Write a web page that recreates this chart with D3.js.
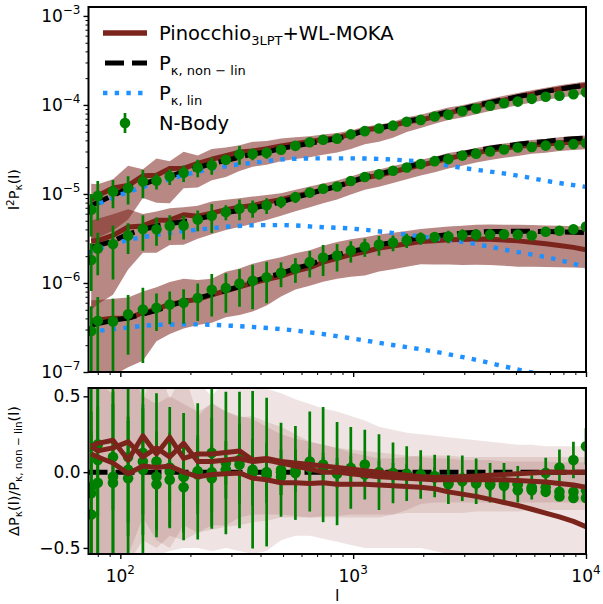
<!DOCTYPE html>
<html>
<head>
<meta charset="utf-8">
<script src="https://cdn.jsdelivr.net/npm/d3@7"></script>
<style>
html,body{margin:0;padding:0;background:#fff;}
svg text{font-family:"DejaVu Sans",sans-serif;fill:#000;}
</style>
</head>
<body>
<svg id="chart" width="603" height="604"></svg>
<script>
// ---------------- data ----------------
const ell = [75, 80, 93, 108, 125, 143, 163, 187, 215, 247, 284, 325, 370, 425, 490, 565, 651, 743, 853, 977,
  1122, 1291, 1483, 1698, 1950, 2239, 2564, 2943, 3375, 3873, 4445, 5093, 5848, 6714, 7690, 8831, 10000];

// non-linear convergence power spectra l^2 P(l) (three source redshifts)
const nonlinU = [7.41e-6, 8.04e-6, 9.66e-6, 1.15e-5, 1.29e-5, 1.45e-5, 1.57e-5, 1.78e-5, 1.97e-5, 2.19e-5,
  2.38e-5, 2.59e-5, 2.81e-5, 2.96e-5, 3.24e-5, 3.47e-5, 3.70e-5, 3.94e-5, 4.18e-5, 4.58e-5,
  5.16e-5, 5.50e-5, 5.94e-5, 6.61e-5, 6.97e-5, 7.69e-5, 8.45e-5, 9.04e-5, 9.84e-5, 1.07e-4,
  1.15e-4, 1.24e-4, 1.33e-4, 1.42e-4, 1.51e-4, 1.59e-4, 1.67e-4];
const nonlinM = [2.51e-6, 2.63e-6, 2.95e-6, 3.55e-6, 3.98e-6, 4.37e-6, 4.62e-6, 4.90e-6, 5.25e-6, 5.69e-6,
  6.17e-6, 6.53e-6, 6.92e-6, 7.50e-6, 8.13e-6, 9.12e-6, 1.01e-5, 1.11e-5, 1.22e-5, 1.37e-5,
  1.55e-5, 1.67e-5, 1.84e-5, 2.01e-5, 2.21e-5, 2.41e-5, 2.65e-5, 2.84e-5, 3.05e-5, 3.26e-5,
  3.44e-5, 3.61e-5, 3.78e-5, 3.88e-5, 4.06e-5, 4.17e-5, 4.25e-5];
const nonlinL = [3.36e-7, 3.49e-7, 3.80e-7, 4.05e-7, 4.47e-7, 4.92e-7, 5.56e-7, 6.18e-7, 6.76e-7, 7.45e-7,
  8.26e-7, 9.12e-7, 1.04e-6, 1.16e-6, 1.28e-6, 1.46e-6, 1.61e-6, 1.84e-6, 2.06e-6, 2.26e-6,
  2.43e-6, 2.70e-6, 2.86e-6, 3.05e-6, 3.24e-6, 3.36e-6, 3.51e-6, 3.61e-6, 3.72e-6, 3.78e-6,
  3.80e-6, 3.81e-6, 3.80e-6, 3.78e-6, 3.75e-6, 3.72e-6, 3.69e-6];

// N-Body relative difference to non-linear prediction
const nbRatioU = [-0.1, 0.183, 0.1, 0.016, 0.07, -0.03, 0.005, -0.03, 0.005, -0.04,
  0.016, 0.08, 0.0, -0.02, -0.03, 0.0, 0.03, 0.03, 0.0, 0.02,
  -0.016, -0.01, -0.015, -0.02, -0.025, -0.035, -0.08, -0.06, -0.075, -0.085,
  -0.09, -0.12, -0.12, -0.13, -0.16, -0.17, -0.17];
const nbRatioM = [-0.28, -0.07, -0.07, -0.04, 0.016, -0.08, -0.05, -0.1, -0.016, 0.0,
  0.016, 0.05, 0.0, -0.005, 0.0, 0.01, 0.03, 0.03, -0.005, 0.02,
  0.0, -0.005, -0.01, -0.015, -0.02, -0.03, -0.07, -0.05, -0.07, -0.08,
  -0.08, -0.08, -0.11, -0.1, -0.13, -0.13, -0.12];
const nbRatioL = [-0.14, 0.08, -0.03, 0.1, 0.127, 0.07, 0.03, -0.03, 0.005, 0.127,
  0.06, 0.08, 0.016, 0.0, 0.016, -0.005, 0.07, 0.05, -0.01, 0.028,
  0.05, 0.0, -0.005, -0.01, -0.015, -0.025, -0.05, -0.04, -0.06, -0.07,
  -0.07, -0.08, -0.1, -0.005, 0.03, 0.08, 0.17];

// N-Body relative errors
const errU = [0.5, 0.47, 0.35, 0.35, 0.35, 0.2, 0.2, 0.21, 0.22, 0.22, 0.1, 0.24, 0.15, 0.14, 0.12, 0.1, 0.08, 0.07, 0.06, 0.05,
  0.05, 0.04, 0.04, 0.04, 0.03, 0.03, 0.03, 0.03, 0.03, 0.03, 0.03, 0.03, 0.03, 0.03, 0.03, 0.03, 0.03];
const errM = [0.55, 0.5, 0.6, 0.38, 0.43, 0.35, 0.31, 0.3, 0.26, 0.36, 0.19, 0.26, 0.22, 0.2, 0.15, 0.14, 0.12, 0.1, 0.1, 0.09,
  0.08, 0.08, 0.07, 0.07, 0.06, 0.06, 0.06, 0.05, 0.05, 0.05, 0.05, 0.04, 0.04, 0.04, 0.04, 0.04, 0.04];
const errL = [0.9, 0.85, 0.8, 0.65, 0.75, 0.45, 0.4, 0.42, 0.45, 0.5, 0.47, 0.45, 0.52, 0.49, 0.31, 0.31, 0.33, 0.38, 0.34, 0.27,
  0.23, 0.25, 0.2, 0.18, 0.16, 0.14, 0.16, 0.15, 0.15, 0.13, 0.13, 0.12, 0.08, 0.1, 0.12, 0.12, 0.12];

// Pinocchio relative difference to non-linear prediction
const pinoRatioU = [0.17, 0.19, 0.21, 0.08, 0.24, 0.12, 0.23, 0.09, 0.12, 0.12, 0.13, 0.14, 0.08, 0.09, 0.07, 0.06, 0.05, 0.04, 0.03, 0.02,
  0.01, 0.0, -0.01, -0.02, -0.03, -0.035, -0.035, -0.03, -0.025, -0.02, -0.015, -0.01, -0.005, 0.0, 0.0, 0.0, 0.0];
const pinoRatioM = [0.17, 0.14, 0.16, 0.2, 0.1, 0.16, 0.1, 0.19, 0.07, 0.07, 0.08, 0.09, 0.07, 0.08, 0.06, 0.04, 0.02, 0.0, 0.0, -0.01,
  -0.02, -0.03, -0.035, -0.04, -0.045, -0.05, -0.05, -0.05, -0.05, -0.05, -0.05, -0.055, -0.06, -0.065, -0.075, -0.085, -0.1];
const pinoRatioL = [0.12, 0.10, 0.06, -0.01, 0.04, 0.03, 0.04, 0.0, -0.03, -0.015, -0.01, -0.005, -0.04, -0.05, -0.07, -0.07, -0.075, -0.07, -0.08, -0.08,
  -0.08, -0.085, -0.09, -0.095, -0.1, -0.11, -0.13, -0.145, -0.16, -0.18, -0.2, -0.22, -0.245, -0.27, -0.295, -0.325, -0.36];

// Pinocchio scatter band (relative to non-linear prediction)
const bandHiU = [0.76, 0.6, 0.51, 0.8, 0.47, 0.73, 0.48, 0.67, 0.37, 0.46, 0.4, 0.36, 0.37, 0.33, 0.3, 0.25, 0.2, 0.18, 0.16, 0.13,
  0.11, 0.09, 0.09, 0.1, 0.11, 0.11, 0.11, 0.1, 0.1, 0.1, 0.1, 0.1, 0.1, 0.1, 0.1, 0.1, 0.1];
const bandLoU = [-0.6, -0.6, -0.6, -0.55, -0.3, -0.45, -0.5, -0.35, -0.4, -0.35, -0.35, -0.3, -0.28, -0.28, -0.28, -0.29, -0.3, -0.3, -0.3, -0.3,
  -0.3, -0.3, -0.28, -0.25, -0.21, -0.2, -0.2, -0.2, -0.2, -0.2, -0.2, -0.2, -0.2, -0.2, -0.2, -0.2, -0.2];
const bandHiM = [1.0, 1.0, 1.0, 0.9, 0.5, 0.45, 0.5, 0.45, 0.4, 0.45, 0.4, 0.37, 0.35, 0.3, 0.25, 0.22, 0.2, 0.18, 0.16, 0.15,
  0.14, 0.13, 0.12, 0.11, 0.1, 0.09, 0.09, 0.08, 0.08, 0.08, 0.07, 0.07, 0.07, 0.07, 0.065, 0.065, 0.065];
const bandLoM = [-0.8, -0.78, -0.75, -0.6, -0.45, -0.5, -0.42, -0.45, -0.4, -0.38, -0.36, -0.35, -0.33, -0.32, -0.3, -0.3, -0.3, -0.29, -0.29, -0.28,
  -0.28, -0.28, -0.28, -0.27, -0.27, -0.27, -0.27, -0.27, -0.26, -0.26, -0.26, -0.26, -0.25, -0.25, -0.25, -0.25, -0.25];
const bandHiL = [0.9, 0.85, 0.75, 0.7, 0.8, 0.82, 0.85, 0.8, 0.6, 0.5, 0.62, 0.6, 0.58, 0.55, 0.52, 0.48, 0.45, 0.42, 0.4, 0.37,
  0.34, 0.3, 0.28, 0.26, 0.25, 0.24, 0.23, 0.22, 0.21, 0.2, 0.19, 0.18, 0.18, 0.17, 0.17, 0.17, 0.17];
const bandLoL = [-0.78, -0.78, -0.76, -0.72, -0.7, -0.55, -0.52, -0.5, -0.5, -0.52, -0.5, -0.52, -0.54, -0.52, -0.45, -0.42, -0.42, -0.44, -0.46, -0.48,
  -0.5, -0.5, -0.5, -0.5, -0.5, -0.52, -0.54, -0.56, -0.57, -0.58, -0.59, -0.6, -0.6, -0.6, -0.6, -0.6, -0.6];

// linear predictions
const linEll = [73, 100, 150, 200, 300, 400, 500, 700, 1000, 1500, 2000, 3000, 5000, 7000, 10000];
const linU = [6.92e-6, 9.77e-6, 1.38e-5, 1.70e-5, 2.09e-5, 2.29e-5, 2.45e-5, 2.51e-5, 2.51e-5, 2.43e-5, 2.29e-5, 1.95e-5, 1.62e-5, 1.38e-5, 1.20e-5];
const linM = [2.19e-6, 2.88e-6, 3.55e-6, 3.89e-6, 4.32e-6, 4.47e-6, 4.47e-6, 4.27e-6, 4.07e-6, 3.63e-6, 3.31e-6, 2.88e-6, 2.24e-6, 1.91e-6, 1.51e-6];
const linL = [2.82e-7, 3.09e-7, 3.40e-7, 3.43e-7, 3.31e-7, 3.16e-7, 3.02e-7, 2.72e-7, 2.37e-7, 2.00e-7, 1.78e-7, 1.46e-7, 1.08e-7, 8.91e-8, 7.08e-8];

// ticks
const xTickExp = [2, 3, 4];
const yTopTickExp = [-7, -6, -5, -4, -3];
const yBotTicks = [-0.5, 0, 0.5];
const yBotTickLabels = ["\u22120.5", "0.0", "0.5"];

// legend
const legendItems = [
  {kind: "pino", parts: [["Pinocchio", 0], ["3LPT", 1], ["+WL-MOKA", 0]]},
  {kind: "nonlin", parts: [["P", 0], ["\u03ba, non \u2212 lin", 1]]},
  {kind: "lin", parts: [["P", 0], ["\u03ba, lin", 1]]},
  {kind: "nbody", parts: [["N-Body", 0]]}
];

// ---------------- drawing ----------------
const brown = "#7b241c", green = "#008000", blue = "#1e90ff";
const svg = d3.select("#chart");
const L = 88.5, R = 586, T1 = 7, B1 = 372, T2 = 388, B2 = 554;
const x = d3.scaleLog().domain([73, 10000]).range([L, R]);
const yT = d3.scaleLog().domain([1e-7, 1.26e-3]).range([B1, T1]);
const yB = d3.scaleLinear().domain([-0.54, 0.555]).range([B2, T2]);

const groups = [
  {nonlin: nonlinU, nb: nbRatioU, err: errU, pino: pinoRatioU, hi: bandHiU, lo: bandLoU, lin: linU},
  {nonlin: nonlinM, nb: nbRatioM, err: errM, pino: pinoRatioM, hi: bandHiM, lo: bandLoM, lin: linM},
  {nonlin: nonlinL, nb: nbRatioL, err: errL, pino: pinoRatioL, hi: bandHiL, lo: bandLoL, lin: linL}
];
const idx = d3.range(ell.length);
const lidx = d3.range(linEll.length);

const defs = svg.append("defs");
defs.append("clipPath").attr("id", "clipTop").append("rect")
  .attr("x", L).attr("y", T1).attr("width", R - L).attr("height", B1 - T1);
defs.append("clipPath").attr("id", "clipBot").append("rect")
  .attr("x", L).attr("y", T2).attr("width", R - L).attr("height", B2 - T2);

// ---- top panel ----
const gT = svg.append("g").attr("clip-path", "url(#clipTop)");
groups.forEach(g => {
  gT.append("path")
    .attr("d", d3.area().x(i => x(ell[i]))
      .y0(i => yT(g.nonlin[i] * (1 + g.lo[i])))
      .y1(i => yT(g.nonlin[i] * (1 + g.hi[i])))(idx))
    .attr("fill", brown).attr("fill-opacity", 0.54).attr("stroke", "none");
});
groups.forEach(g => {
  gT.append("path")
    .attr("d", d3.line().x(i => x(ell[i])).y(i => yT(g.nonlin[i] * (1 + g.pino[i])))(idx))
    .attr("fill", "none").attr("stroke", brown).attr("stroke-width", 5).attr("stroke-linejoin", "round");
});
groups.forEach(g => {
  gT.append("path")
    .attr("d", d3.line().x(i => x(ell[i])).y(i => yT(g.nonlin[i]))(idx))
    .attr("fill", "none").attr("stroke", "#000").attr("stroke-width", 5).attr("stroke-dasharray", "19,8");
});
groups.forEach(g => {
  gT.append("path")
    .attr("d", d3.line().curve(d3.curveMonotoneX).x(i => x(linEll[i])).y(i => yT(g.lin[i]))(lidx))
    .attr("fill", "none").attr("stroke", blue).attr("stroke-width", 4.4).attr("stroke-dasharray", "4.4,7.3");
});
groups.forEach(g => {
  const p = i => g.nonlin[i] * (1 + g.nb[i]);
  gT.append("g").selectAll("line").data(idx).join("line")
    .attr("x1", i => x(ell[i])).attr("x2", i => x(ell[i]))
    .attr("y1", i => yT(Math.max(p(i) * (1 - g.err[i]), 1e-9)))
    .attr("y2", i => yT(p(i) * (1 + g.err[i])))
    .attr("stroke", green).attr("stroke-width", 2.7);
  gT.append("g").selectAll("circle").data(idx).join("circle")
    .attr("cx", i => x(ell[i])).attr("cy", i => yT(p(i))).attr("r", 5.3).attr("fill", green);
});

// ---- bottom panel ----
const gB = svg.append("g").attr("clip-path", "url(#clipBot)");
groups.forEach(g => {
  gB.append("path")
    .attr("d", d3.area().x(i => x(ell[i])).y0(i => yB(g.lo[i])).y1(i => yB(g.hi[i]))(idx))
    .attr("fill", brown).attr("fill-opacity", 0.12).attr("stroke", "none");
});
gB.append("path")
  .attr("d", d3.line().x(d => x(d)).y(() => yB(0))(x.domain()))
  .attr("fill", "none").attr("stroke", "#000").attr("stroke-width", 5).attr("stroke-dasharray", "19,8");
groups.forEach(g => {
  gB.append("g").selectAll("line").data(idx).join("line")
    .attr("x1", i => x(ell[i])).attr("x2", i => x(ell[i]))
    .attr("y1", i => yB(g.nb[i] - g.err[i])).attr("y2", i => yB(g.nb[i] + g.err[i]))
    .attr("stroke", green).attr("stroke-width", 2.7);
  gB.append("g").selectAll("circle").data(idx).join("circle")
    .attr("cx", i => x(ell[i])).attr("cy", i => yB(g.nb[i])).attr("r", 5.3).attr("fill", green);
});
groups.forEach(g => {
  gB.append("path")
    .attr("d", d3.line().x(i => x(ell[i])).y(i => yB(g.pino[i]))(idx))
    .attr("fill", "none").attr("stroke", brown).attr("stroke-width", 5).attr("stroke-linejoin", "round");
});

// ---- axes ----
const isMajor = v => Math.abs(Math.log10(v) - Math.round(Math.log10(v))) < 1e-6;
const xMinor = x.ticks().filter(v => !isMajor(v));
const xMajor = xTickExp.map(e => Math.pow(10, e));
const yTMinor = yT.ticks().filter(v => !isMajor(v));
const yTMajor = yTopTickExp.map(e => Math.pow(10, e));

function tickGroup(axis, tx, ty, width) {
  const g = svg.append("g").attr("transform", `translate(${tx},${ty})`).call(axis);
  g.select(".domain").remove();
  g.selectAll("line").attr("stroke-width", width);
  return g;
}
tickGroup(d3.axisLeft(yT).tickValues(yTMajor).tickSize(5).tickFormat(""), L, 0, 1.4);
tickGroup(d3.axisLeft(yT).tickValues(yTMinor).tickSize(3).tickFormat(""), L, 0, 1);
tickGroup(d3.axisBottom(x).tickValues(xMajor).tickSize(5).tickFormat(""), 0, B1, 1.4);
tickGroup(d3.axisBottom(x).tickValues(xMinor).tickSize(3).tickFormat(""), 0, B1, 1);
tickGroup(d3.axisBottom(x).tickValues(xMajor).tickSize(5).tickFormat(""), 0, B2, 1.4);
tickGroup(d3.axisBottom(x).tickValues(xMinor).tickSize(3).tickFormat(""), 0, B2, 1);
tickGroup(d3.axisLeft(yB).tickValues(yBotTicks).tickSize(5).tickFormat(""), L, 0, 1.4);

// frames
[[T1, B1], [T2, B2]].forEach(([t, b]) => {
  svg.append("rect").attr("x", L).attr("y", t).attr("width", R - L).attr("height", b - t)
    .attr("fill", "none").attr("stroke", "#000").attr("stroke-width", 2);
});

// tick labels
yTopTickExp.forEach(e => {
  const t = svg.append("text").attr("x", L - 8).attr("y", yT(Math.pow(10, e)) + 6)
    .attr("text-anchor", "end").attr("font-size", 17);
  t.append("tspan").text("10");
  t.append("tspan").attr("font-size", 12).attr("dy", -8).text(e < 0 ? "\u2212" + Math.abs(e) : String(e));
});
xTickExp.forEach(e => {
  const t = svg.append("text").attr("x", x(Math.pow(10, e))).attr("y", B2 + 28)
    .attr("text-anchor", "middle").attr("font-size", 17);
  t.append("tspan").text("10");
  t.append("tspan").attr("font-size", 12).attr("dy", -8).text(String(e));
});
yBotTicks.forEach((v, k) => {
  svg.append("text").attr("x", L - 8).attr("y", yB(v) + 6)
    .attr("text-anchor", "end").attr("font-size", 17).text(yBotTickLabels[k]);
});

// axis labels
function richText(sel, parts, size, subSize, subDy) {
  let shift = 0;
  parts.forEach(([txt, kind]) => {
    const ts = sel.append("tspan").text(txt);
    let target = 0;
    if (kind === 1) { ts.attr("font-size", subSize); target = subDy; }
    if (kind === 2) { ts.attr("font-size", subSize); target = -subDy * 1.6; }
    if (target !== shift) ts.attr("dy", target - shift);
    shift = target;
  });
}
const yl1 = svg.append("text").attr("transform", `translate(19,${(T1 + B1) / 2}) rotate(-90)`)
  .attr("text-anchor", "middle").attr("font-size", 14.5);
richText(yl1, [["l", 0], ["2", 2], ["P", 0], ["\u03ba", 1], ["(l)", 0]], 14.5, 10.5, 3);
const yl2 = svg.append("text").attr("transform", `translate(19,${(T2 + B2) / 2}) rotate(-90)`)
  .attr("text-anchor", "middle").attr("font-size", 14.5);
richText(yl2, [["\u0394P", 0], ["\u03ba", 1], ["(l)/P", 0], ["\u03ba, non \u2212 lin", 1], ["(l)", 0]], 14.5, 10.5, 3);
svg.append("text").attr("x", (L + R) / 2).attr("y", 601).attr("text-anchor", "middle")
  .attr("font-size", 16).text("l");

// legend
const legY = [33, 63, 93, 123];
const hx0 = 103, hx1 = 147, tx = 159;
legendItems.forEach((it, k) => {
  const y = legY[k];
  if (it.kind === "pino") {
    svg.append("line").attr("x1", hx0).attr("x2", hx1).attr("y1", y).attr("y2", y)
      .attr("stroke", brown).attr("stroke-width", 5.5);
  } else if (it.kind === "nonlin") {
    svg.append("line").attr("x1", hx0 + 2).attr("x2", hx1).attr("y1", y).attr("y2", y)
      .attr("stroke", "#000").attr("stroke-width", 5).attr("stroke-dasharray", "19,8");
  } else if (it.kind === "lin") {
    svg.append("line").attr("x1", hx0).attr("x2", hx1).attr("y1", y).attr("y2", y)
      .attr("stroke", blue).attr("stroke-width", 4.4).attr("stroke-dasharray", "4.4,7.3");
  } else {
    const cx = (hx0 + hx1) / 2;
    svg.append("line").attr("x1", cx).attr("x2", cx).attr("y1", y - 10).attr("y2", y + 10)
      .attr("stroke", green).attr("stroke-width", 2.7);
    svg.append("circle").attr("cx", cx).attr("cy", y).attr("r", 5.3).attr("fill", green);
  }
  const t = svg.append("text").attr("x", tx).attr("y", y + 7).attr("font-size", 19.5);
  richText(t, it.parts, 19.5, 13, 4.5);
});
</script>
</body>
</html>
